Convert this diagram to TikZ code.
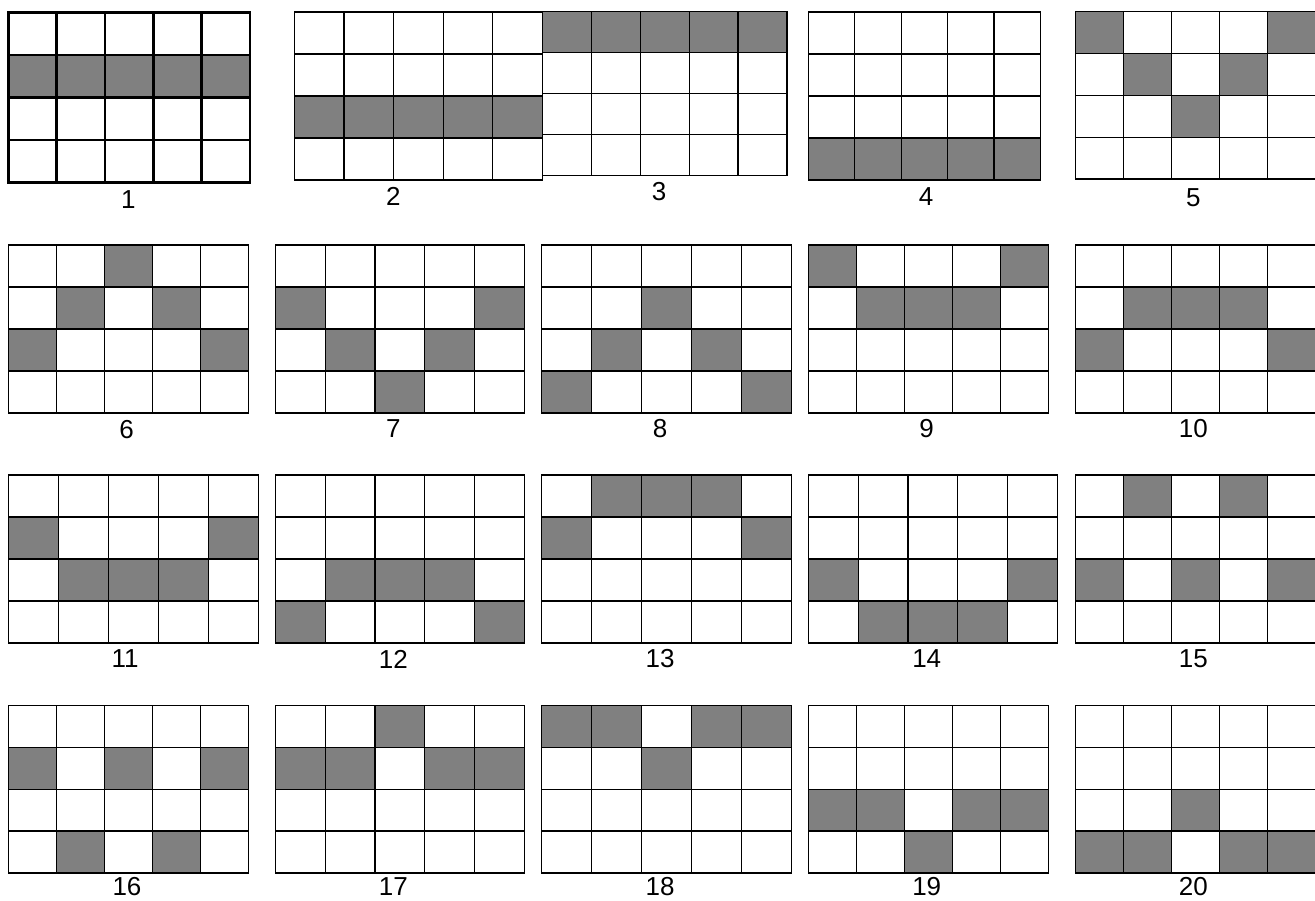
\documentclass[tikz,border=0pt]{standalone}
\usepackage{fontspec}
\setmainfont{Liberation Sans}
\definecolor{cellgray}{HTML}{808080}
\tikzset{
  gridline/.style={draw=black, line width=1.2pt},
  thickgrid/.style={draw=black, line width=2.6pt},
  cellfill/.style={fill=cellgray},
  lab/.style={inner sep=0pt, font=\fontsize{26}{28}\selectfont}
}
% #1 left, #2 top, #3 right, #4 bottom, #5 filled cells r/c, #6 line style
\newcommand{\cellgrid}[6]{%
  \foreach \r/\c in {#5} {
    \fill[cellfill] ({#1+(\c-1)*(#3-#1)/5},{#2+(\r-1)*(#4-#2)/4}) rectangle ({#1+\c*(#3-#1)/5},{#2+\r*(#4-#2)/4});
  }
  \foreach \i in {1,...,4} {
    \draw[#6] ({#1+\i*(#3-#1)/5},#2) -- ({#1+\i*(#3-#1)/5},#4);
  }
  \foreach \j in {1,...,3} {
    \draw[#6] (#1,{#2+\j*(#4-#2)/4}) -- (#3,{#2+\j*(#4-#2)/4});
  }
  \draw[#6] (#1,#2) rectangle (#3,#4);
}
\begin{document}
\begin{tikzpicture}[x=1pt,y=-1pt]
\useasboundingbox (0,0) rectangle (1315,900);
\fill[white] (0,0) rectangle (1315,900);
\clip (0,0) rectangle (1315,900);
% row 1
\cellgrid{8.3}{12.3}{250}{182.3}{2/1,2/2,2/3,2/4,2/5}{thickgrid}
\cellgrid{294.3}{12}{542.3}{180}{3/1,3/2,3/3,3/4,3/5}{gridline}
\cellgrid{542.3}{11.7}{787}{175.7}{1/1,1/2,1/3,1/4,1/5}{gridline}
\cellgrid{808.3}{12}{1040.3}{180}{4/1,4/2,4/3,4/4,4/5}{gridline}
\cellgrid{1075.7}{11.7}{1315.7}{179}{1/1,1/5,2/2,2/4,3/3}{gridline}
% row 2
\cellgrid{8.3}{245}{248.7}{413}{1/3,2/2,2/4,3/1,3/5}{gridline}
\cellgrid{275.3}{245}{524.3}{413}{2/1,2/5,3/2,3/4,4/3}{gridline}
\cellgrid{541.3}{245}{791.7}{413}{2/3,3/2,3/4,4/1,4/5}{gridline}
\cellgrid{808.3}{245}{1048.3}{413}{1/1,1/5,2/2,2/3,2/4}{gridline}
\cellgrid{1075.7}{245}{1315.7}{413}{2/2,2/3,2/4,3/1,3/5}{gridline}
% row 3
\cellgrid{8.3}{475}{258.3}{643}{2/1,2/5,3/2,3/3,3/4}{gridline}
\cellgrid{275.3}{475}{524.3}{643}{3/2,3/3,3/4,4/1,4/5}{gridline}
\cellgrid{541.3}{475}{791.7}{643}{1/2,1/3,1/4,2/1,2/5}{gridline}
\cellgrid{808.3}{475}{1057.3}{643}{3/1,3/5,4/2,4/3,4/4}{gridline}
\cellgrid{1075.7}{475}{1315.7}{643}{1/2,1/4,3/1,3/3,3/5}{gridline}
% row 4
\cellgrid{8.3}{705.3}{248.7}{873}{2/1,2/3,2/5,4/2,4/4}{gridline}
\cellgrid{275.3}{705.3}{524.3}{873}{1/3,2/1,2/2,2/4,2/5}{gridline}
\cellgrid{541.3}{705.3}{791.7}{873}{1/1,1/2,1/4,1/5,2/3}{gridline}
\cellgrid{808.3}{705.3}{1048.3}{873}{3/1,3/2,3/4,3/5,4/3}{gridline}
\cellgrid{1075.7}{705.3}{1315.7}{873}{3/3,4/1,4/2,4/4,4/5}{gridline}
% labels
\node[lab] (l1) at (128.3,200) {1};
\node[lab] (l2) at (393.3,196.7) {2};
\node[lab] (l3) at (659,192) {3};
\node[lab] (l4) at (926,197) {4};
\node[lab] (l5) at (1193.3,197.5) {5};
\node[lab] (l6) at (126.7,430) {6};
\node[lab] (l7) at (393.3,428.6) {7};
\node[lab] (l8) at (660,428.5) {8};
\node[lab] (l9) at (926.7,429) {9};
\node[lab] (l10) at (1193.3,429) {10};
\node[lab] (l11) at (125,659) {11};
\node[lab] (l12) at (393.3,659) {12};
\node[lab] (l13) at (660,659) {13};
\node[lab] (l14) at (926.7,659) {14};
\node[lab] (l15) at (1193.3,659) {15};
\node[lab] (l16) at (127,887) {16};
\node[lab] (l17) at (393.3,887) {17};
\node[lab] (l18) at (660,887) {18};
\node[lab] (l19) at (926.7,887) {19};
\node[lab] (l20) at (1193.3,887) {20};
\end{tikzpicture}
\end{document}
